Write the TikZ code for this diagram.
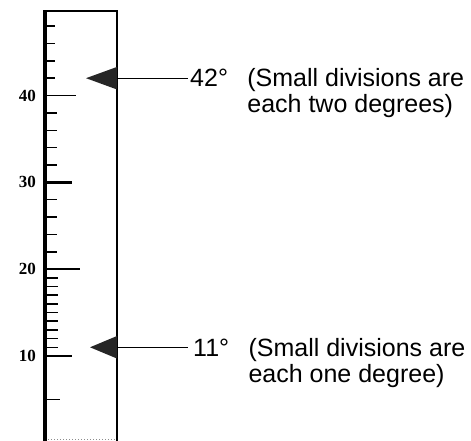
\documentclass[tikz,border=0pt]{standalone}
\usepackage{fontspec}
\setmainfont{Liberation Sans}
\newfontfamily\scaleserif{Liberation Serif}
\usetikzlibrary{positioning}

\tikzset{
  scaletick/.style={line width=1.5pt},
  degnum/.style={font=\scaleserif\bfseries\fontsize{17}{17}\selectfont,anchor=east,inner sep=0pt},
  reading/.style={font=\fontsize{25}{26}\selectfont,inner sep=0pt,anchor=west},
  divnote/.style={font=\fontsize{25}{26}\selectfont,inner sep=0pt,align=left,anchor=base west},
  pointer/.style={fill=black!85},
}

\begin{document}
\begin{tikzpicture}[x=1pt,y=8.68pt]
\useasboundingbox (0,0.207) rectangle (471,51.01);
% Thermometer tube: heavy left edge, thin right edge, cap on top.
\draw[line width=3.5pt] (45,49.75) -- (45,0.207);
\draw[line width=2pt] (117,49.75) -- (117,0.207);
\draw[line width=2pt] (43.25,49.75) -- (118,49.75);
\draw[black!45,dotted,line width=1pt] (48,0.32) -- (116,0.32);
% Two-degree divisions above 20.
\foreach \t in {22,24,...,38}{
  \draw[scaletick] (45,\t) -- (57,\t);
}
\foreach \t in {42,44,...,48}{
  \draw[scaletick] (45,\t) -- (55,\t);
}
% One-degree divisions from 10 to 20.
\foreach \t in {11,...,19}{
  \draw[scaletick] (45,\t) -- (58,\t);
}
\draw[scaletick] (45,5) -- (60,5);
% Numbered ticks.
\foreach \t/\e in {10/72,20/80,30/72,40/76}{
  \draw[scaletick] (45,\t) -- (\e,\t);
  \node[degnum] (num\t) at (36,\t) {\t};
}
\draw[line width=3pt] (45,30) -- (72,30);
% Readings at 42 and 11 degrees.
\coordinate (bar42) at (117,42);
\fill[pointer] (86,42) -- (117,43.3) -- (117,40.7) -- cycle;
\node[reading] (lab42) at (190,42) {42°};
\draw[line width=1.2pt,shorten >=2pt] (bar42) -- (lab42);
\node[divnote] (note42) at ([xshift=19pt,yshift=-26pt]lab42.base east) {(Small divisions are\\each two degrees)};

\coordinate (bar11) at (117,11);
\fill[pointer] (90,11) -- (117,12.3) -- (117,9.7) -- cycle;
\node[reading] (lab11) at (193,11) {11°};
\draw[line width=1.2pt,shorten >=5pt] (bar11) -- (lab11);
\node[divnote] (note11) at ([xshift=19pt,yshift=-26pt]lab11.base east) {(Small divisions are\\each one degree)};
\end{tikzpicture}
\end{document}
